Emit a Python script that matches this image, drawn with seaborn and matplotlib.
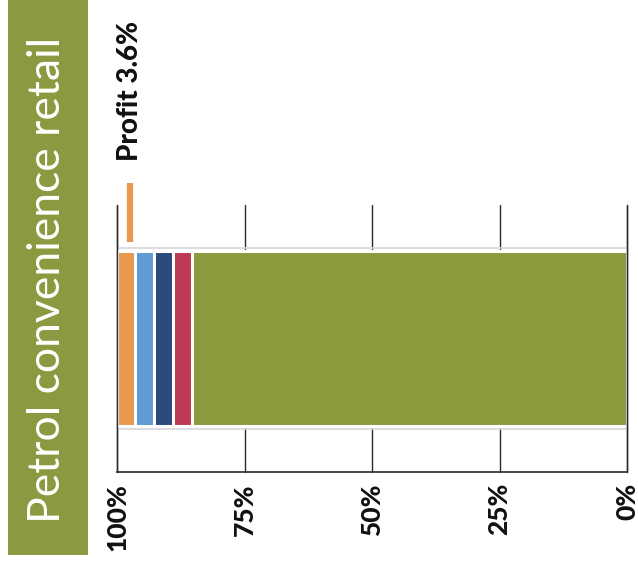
import matplotlib
matplotlib.use("Agg")
import matplotlib.pyplot as plt
from matplotlib.patches import Rectangle
import matplotlib.transforms as mtransforms
import numpy as np
import pandas as pd
import seaborn as sns

# Cost breakdown of one sales dollar, listed from the 100% end of the bar
segments = ["Profit", "Cost B", "Cost C", "Cost D", "Cost of goods"]
shares = [3.6, 3.6, 3.8, 3.7, 85.3]
colors = ["#E8994F", "#5E9AD4", "#2C4A7C", "#BC3A56", "#8C9A3E"]
category = "Petrol convenience retail"
tick_values = [100, 75, 50, 25, 0]
tick_labels = ["100%", "75%", "50%", "25%", "0%"]
profit_label = "Profit 3.6%"

sns.set_theme(style="white")
plt.rcParams["font.family"] = ["Lato", "DejaVu Sans"]

# Cumulative ends measured from the 0% side (the right edge)
ends = 100 - np.concatenate([[0], np.cumsum(shares)[:-1]])
df = pd.DataFrame({"segment": segments, "share": shares, "end": ends,
                   "color": colors, "row": category})

fig = plt.figure(figsize=(6.38, 5.68), dpi=100)
ax = fig.add_axes([0.1834, 0.169, 0.7994, 0.470])

bar_h = 0.655
# Largest cumulative first, so each following segment overlays the previous
for _, r in df.sort_values("end", ascending=False).iterrows():
    sns.barplot(data=pd.DataFrame({"v": [r["end"]], "row": [r["row"]]}),
                x="v", y="row", orient="h", color=r["color"], saturation=1,
                width=bar_h, edgecolor="white", linewidth=2.2, ax=ax)

# faint outline round the whole bar
ax.add_patch(Rectangle((0, -bar_h / 2 - 0.01), 100, bar_h + 0.02, fill=False,
                       edgecolor="#d6d6dc", linewidth=1.2, zorder=3))

ax.set_xlim(100, 0)
ax.set_ylim(0.5, -0.5)
ax.set_xlabel("")
ax.set_ylabel("")
ax.set_yticks([])
ax.set_xticks(tick_values)
ax.set_xticklabels(tick_labels, rotation=90, fontsize=19, fontweight="black",
                   color="#111111")
ax.tick_params(axis="x", length=0, pad=8)
for v in tick_values:
    ax.axvline(v, color="#2a2a2a", linewidth=1.0, zorder=0, clip_on=False)
# outer edges stay visible across the bar
for v in (tick_values[0], tick_values[-1]):
    ax.axvline(v, color="#2a2a2a", linewidth=1.0, zorder=4, clip_on=False)
for side in ["top", "left", "right"]:
    ax.spines[side].set_visible(False)
ax.spines["bottom"].set_color("#2a2a2a")
ax.spines["bottom"].set_linewidth(1.2)
ax.set_facecolor("none")

# profit call-out above the orange segment
profit_x = 100 - shares[0] * 0.7
trans = mtransforms.blended_transform_factory(ax.transData, ax.transAxes)
ax.plot([profit_x, profit_x], [0.862, 1.082], color=colors[0], linewidth=4.5,
        transform=trans, clip_on=False, solid_capstyle="butt")
ax.text(profit_x, 1.165, profit_label, rotation=90, ha="center", va="bottom",
        fontsize=20, fontweight="black", color="#111111", transform=trans)

# title panel on the left
fig.patches.append(Rectangle((0.0125, 0.0229), 0.125, 0.98, transform=fig.transFigure,
                             facecolor="#8A9A40", edgecolor="none"))
fig.text(0.075, 0.507, category, rotation=90, ha="center", va="center",
         fontsize=32, fontweight="normal", color="white")

fig.savefig("out.png", dpi=100)
